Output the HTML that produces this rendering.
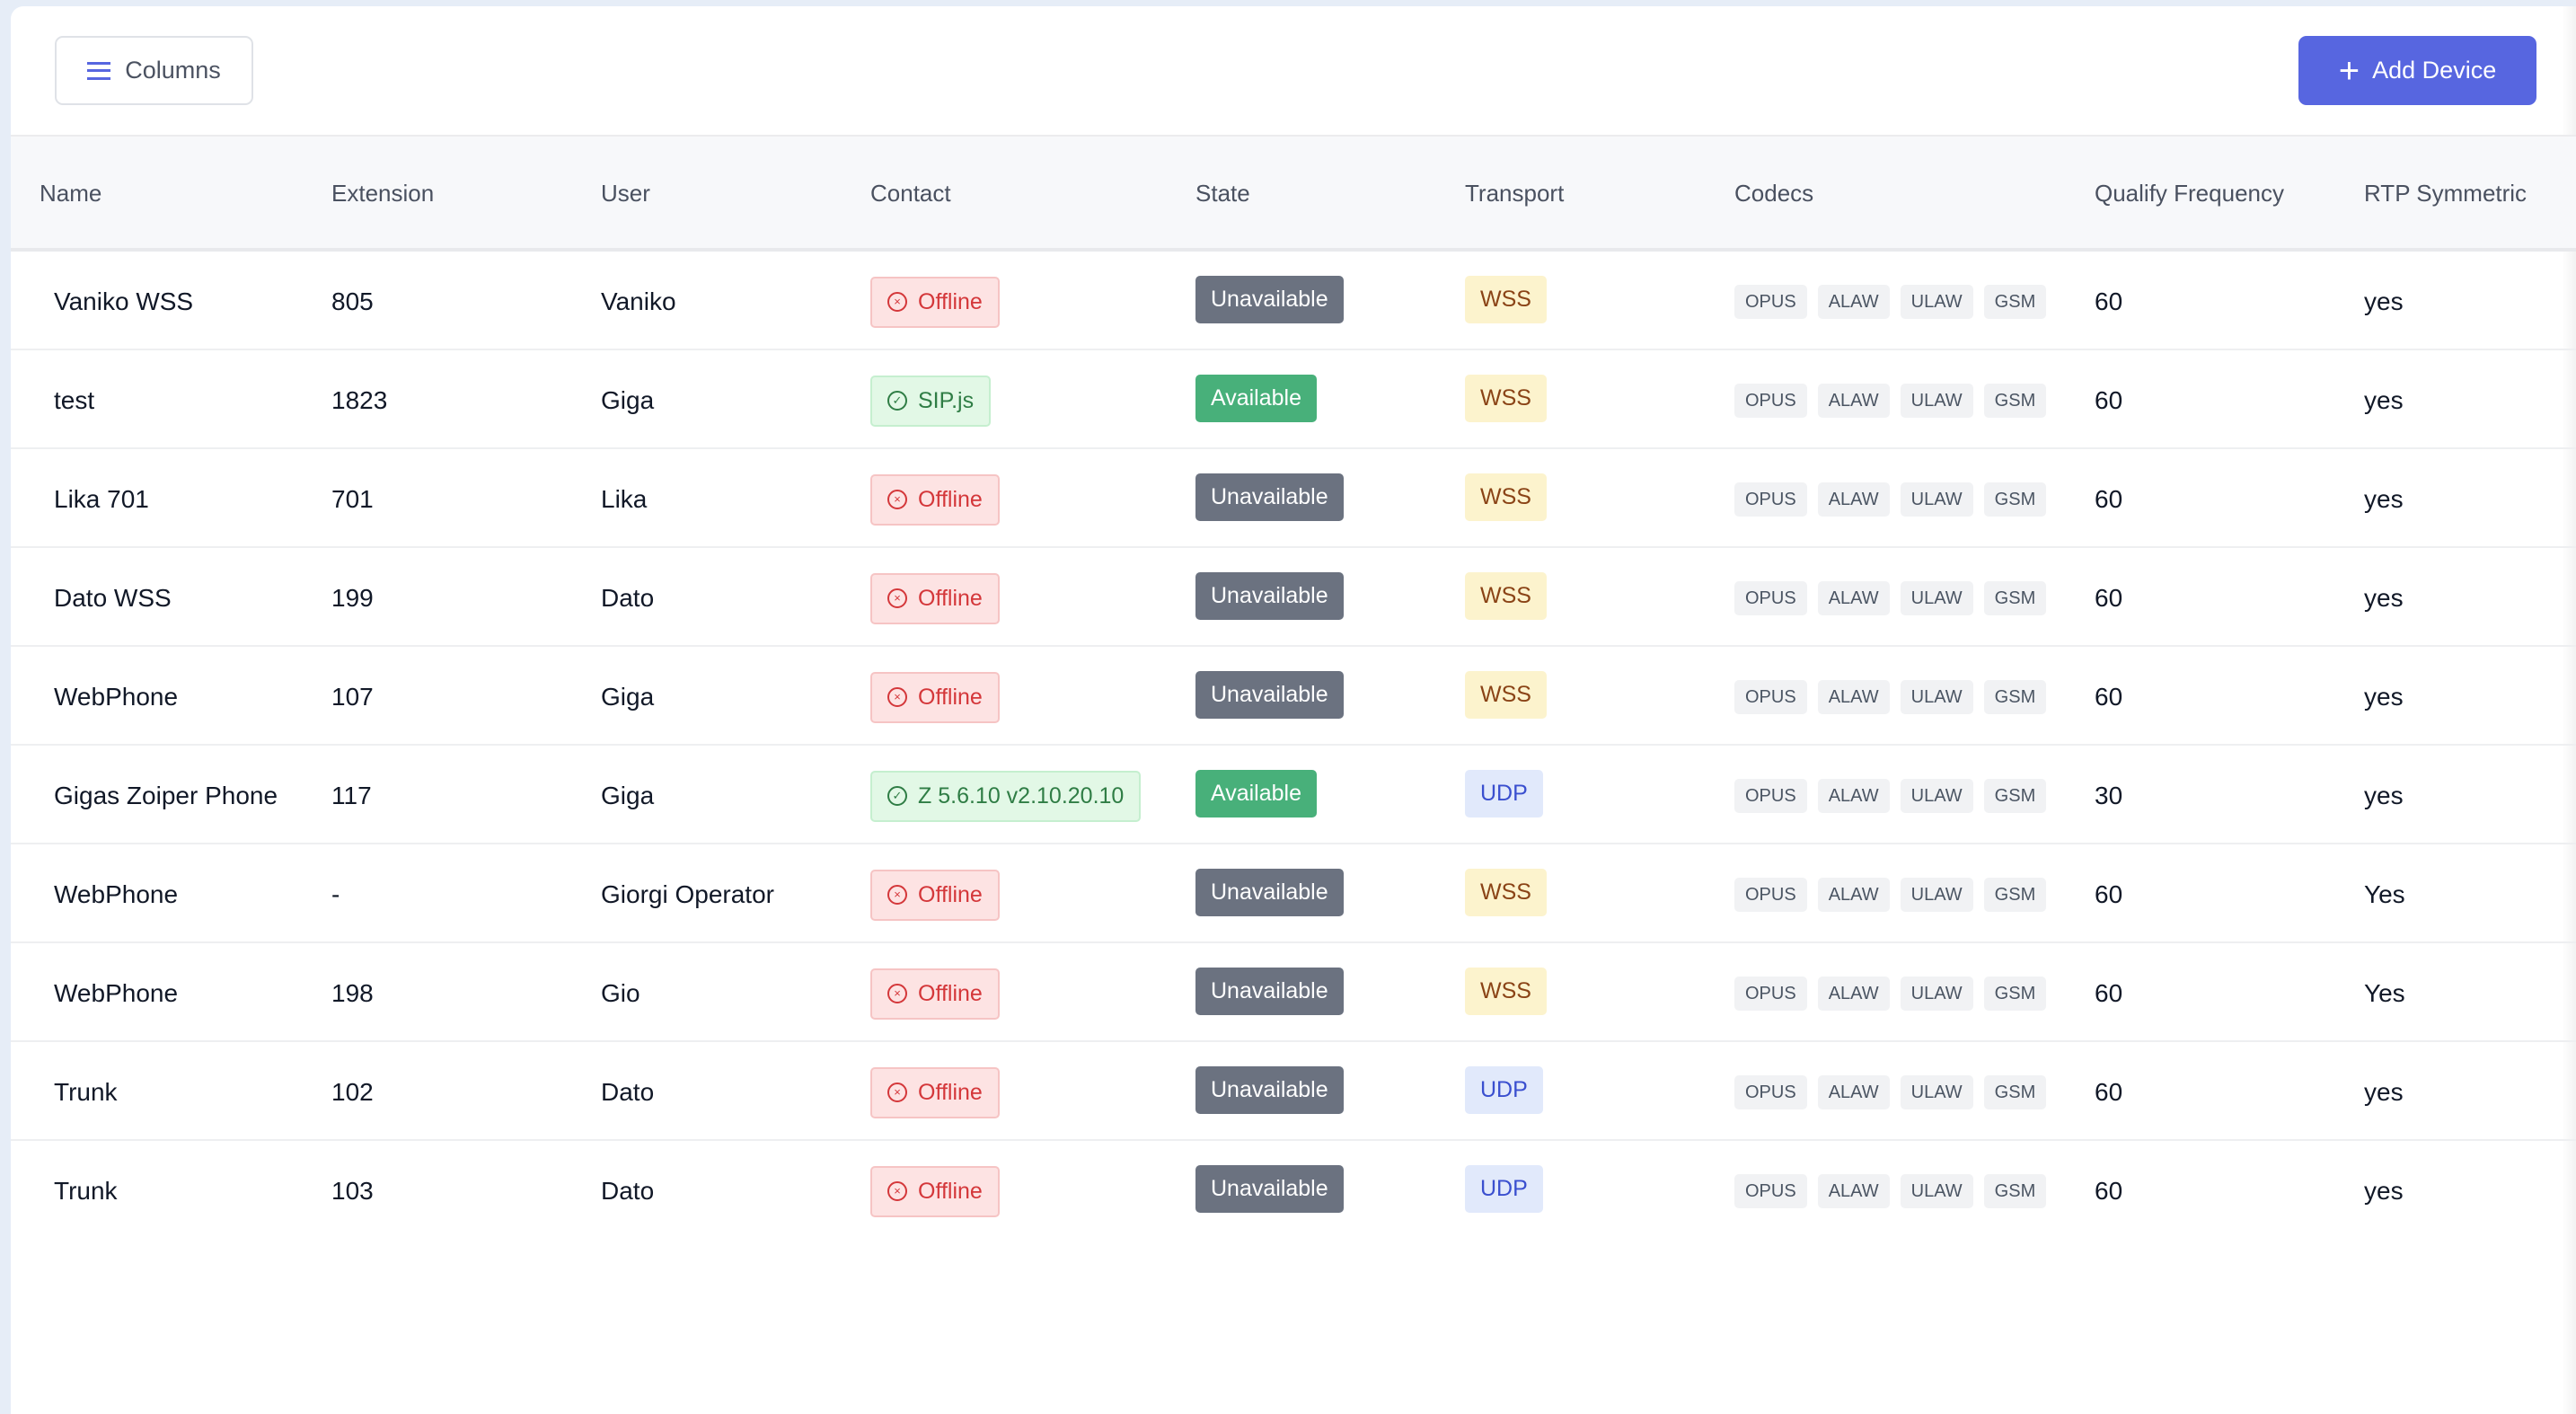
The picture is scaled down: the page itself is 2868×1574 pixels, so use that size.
<!DOCTYPE html>
<html><head><meta charset="utf-8"><style>
*{box-sizing:border-box;margin:0;padding:0}
body{width:2868px;height:1574px;background:#e6edf7;font-family:"Liberation Sans",sans-serif;position:relative;overflow:hidden}
.card{position:absolute;left:12px;top:7px;width:2856px;height:1567px;background:#fff;border-radius:14px 0 0 0;overflow:hidden}
.shade{position:absolute;right:0;top:0;width:16px;height:100%;background:linear-gradient(90deg,rgba(0,0,0,0),rgba(0,0,0,0.05))}
.btn1{position:absolute;left:49px;top:33px;width:221px;height:77px;border:2px solid #dfe2e7;border-radius:9px;display:flex;align-items:center;justify-content:center;font-size:27px;color:#4b5261}
.btn2{position:absolute;left:2547px;top:33px;width:265px;height:77px;background:#5766e0;border-radius:9px;display:flex;align-items:center;justify-content:center;font-size:27px;color:#fff}
.hb{display:inline-block;width:26px;height:20px;margin-right:16px;border-top:3px solid #5766e0;border-bottom:3px solid #5766e0;position:relative}
.hb:after{content:"";position:absolute;left:0;right:0;top:5.5px;border-top:3px solid #5766e0}
.head{position:absolute;left:0;top:143px;width:100%;height:130px;background:#f7f8fa;border-top:2px solid #ececee;border-bottom:4px solid #e8e9ec}
.h{position:absolute;top:0;height:124px;line-height:126px;font-size:26px;color:#4a5160}
.row{position:absolute;left:0;width:100%;height:110px;border-bottom:2px solid #eeeff1}
.c{position:absolute;top:2px;height:108px;display:flex;align-items:center;font-size:28px;color:#111827}
.b{display:inline-flex;align-items:center;height:57px;padding:0 17px;border-radius:5px;font-size:25px}
.off{background:#fde3e3;border:2px solid #f6c4c4;color:#d4373a}
.ok{background:#e2f8e6;border:2px solid #c5efcf;color:#2f7d45}
.st{height:53px;margin-top:-6px;color:#fff;font-size:25px;padding:0 17px;border-radius:5px}
.un{background:#6b7280}.av{background:#48b07a}
.wss{background:#fcf3cd;color:#8a4316;margin-top:-6px;height:53px;padding:0 17px}
.udp{background:#e1e9fb;color:#3a4fcf;margin-top:-6px;height:53px;padding:0 17px}
.ch{display:inline-flex;align-items:center;height:38px;padding:0 12px;margin-right:12px;background:#f1f2f4;border-radius:5px;font-size:20px;color:#4b5563}
.ic{display:inline-block;width:22px;height:22px;border:2px solid currentColor;border-radius:50%;margin-right:12px;font-size:13px;line-height:18px;text-align:center}
</style></head><body>
<div class="card">
<div class="shade"></div>
<div class="btn1"><span class="hb"></span>Columns</div>
<div class="btn2"><span style="font-size:40px;font-weight:300;margin-right:14px;line-height:1">+</span>Add Device</div>
<div class="head">
<div class="h" style="left:32px">Name</div><div class="h" style="left:357px">Extension</div><div class="h" style="left:657px">User</div><div class="h" style="left:957px">Contact</div><div class="h" style="left:1319px">State</div><div class="h" style="left:1619px">Transport</div><div class="h" style="left:1919px">Codecs</div><div class="h" style="left:2320px">Qualify Frequency</div><div class="h" style="left:2620px">RTP Symmetric</div>
</div>

<div class="row" style="top:273px"><div class="c" style="left:48px">Vaniko WSS</div><div class="c" style="left:357px">805</div><div class="c" style="left:657px">Vaniko</div><div class="c" style="left:957px"><span class="b off"><span class="ic">×</span>Offline</span></div><div class="c" style="left:1319px"><span class="b st un">Unavailable</span></div><div class="c" style="left:1619px"><span class="b wss">WSS</span></div><div class="c" style="left:1919px"><span class="ch">OPUS</span><span class="ch">ALAW</span><span class="ch">ULAW</span><span class="ch">GSM</span></div><div class="c" style="left:2320px">60</div><div class="c" style="left:2620px">yes</div></div>

<div class="row" style="top:383px"><div class="c" style="left:48px">test</div><div class="c" style="left:357px">1823</div><div class="c" style="left:657px">Giga</div><div class="c" style="left:957px"><span class="b ok"><span class="ic">✓</span>SIP.js</span></div><div class="c" style="left:1319px"><span class="b st av">Available</span></div><div class="c" style="left:1619px"><span class="b wss">WSS</span></div><div class="c" style="left:1919px"><span class="ch">OPUS</span><span class="ch">ALAW</span><span class="ch">ULAW</span><span class="ch">GSM</span></div><div class="c" style="left:2320px">60</div><div class="c" style="left:2620px">yes</div></div>

<div class="row" style="top:493px"><div class="c" style="left:48px">Lika 701</div><div class="c" style="left:357px">701</div><div class="c" style="left:657px">Lika</div><div class="c" style="left:957px"><span class="b off"><span class="ic">×</span>Offline</span></div><div class="c" style="left:1319px"><span class="b st un">Unavailable</span></div><div class="c" style="left:1619px"><span class="b wss">WSS</span></div><div class="c" style="left:1919px"><span class="ch">OPUS</span><span class="ch">ALAW</span><span class="ch">ULAW</span><span class="ch">GSM</span></div><div class="c" style="left:2320px">60</div><div class="c" style="left:2620px">yes</div></div>

<div class="row" style="top:603px"><div class="c" style="left:48px">Dato WSS</div><div class="c" style="left:357px">199</div><div class="c" style="left:657px">Dato</div><div class="c" style="left:957px"><span class="b off"><span class="ic">×</span>Offline</span></div><div class="c" style="left:1319px"><span class="b st un">Unavailable</span></div><div class="c" style="left:1619px"><span class="b wss">WSS</span></div><div class="c" style="left:1919px"><span class="ch">OPUS</span><span class="ch">ALAW</span><span class="ch">ULAW</span><span class="ch">GSM</span></div><div class="c" style="left:2320px">60</div><div class="c" style="left:2620px">yes</div></div>

<div class="row" style="top:713px"><div class="c" style="left:48px">WebPhone</div><div class="c" style="left:357px">107</div><div class="c" style="left:657px">Giga</div><div class="c" style="left:957px"><span class="b off"><span class="ic">×</span>Offline</span></div><div class="c" style="left:1319px"><span class="b st un">Unavailable</span></div><div class="c" style="left:1619px"><span class="b wss">WSS</span></div><div class="c" style="left:1919px"><span class="ch">OPUS</span><span class="ch">ALAW</span><span class="ch">ULAW</span><span class="ch">GSM</span></div><div class="c" style="left:2320px">60</div><div class="c" style="left:2620px">yes</div></div>

<div class="row" style="top:823px"><div class="c" style="left:48px">Gigas Zoiper Phone</div><div class="c" style="left:357px">117</div><div class="c" style="left:657px">Giga</div><div class="c" style="left:957px"><span class="b ok"><span class="ic">✓</span>Z 5.6.10 v2.10.20.10</span></div><div class="c" style="left:1319px"><span class="b st av">Available</span></div><div class="c" style="left:1619px"><span class="b udp">UDP</span></div><div class="c" style="left:1919px"><span class="ch">OPUS</span><span class="ch">ALAW</span><span class="ch">ULAW</span><span class="ch">GSM</span></div><div class="c" style="left:2320px">30</div><div class="c" style="left:2620px">yes</div></div>

<div class="row" style="top:933px"><div class="c" style="left:48px">WebPhone</div><div class="c" style="left:357px">-</div><div class="c" style="left:657px">Giorgi Operator</div><div class="c" style="left:957px"><span class="b off"><span class="ic">×</span>Offline</span></div><div class="c" style="left:1319px"><span class="b st un">Unavailable</span></div><div class="c" style="left:1619px"><span class="b wss">WSS</span></div><div class="c" style="left:1919px"><span class="ch">OPUS</span><span class="ch">ALAW</span><span class="ch">ULAW</span><span class="ch">GSM</span></div><div class="c" style="left:2320px">60</div><div class="c" style="left:2620px">Yes</div></div>

<div class="row" style="top:1043px"><div class="c" style="left:48px">WebPhone</div><div class="c" style="left:357px">198</div><div class="c" style="left:657px">Gio</div><div class="c" style="left:957px"><span class="b off"><span class="ic">×</span>Offline</span></div><div class="c" style="left:1319px"><span class="b st un">Unavailable</span></div><div class="c" style="left:1619px"><span class="b wss">WSS</span></div><div class="c" style="left:1919px"><span class="ch">OPUS</span><span class="ch">ALAW</span><span class="ch">ULAW</span><span class="ch">GSM</span></div><div class="c" style="left:2320px">60</div><div class="c" style="left:2620px">Yes</div></div>

<div class="row" style="top:1153px"><div class="c" style="left:48px">Trunk</div><div class="c" style="left:357px">102</div><div class="c" style="left:657px">Dato</div><div class="c" style="left:957px"><span class="b off"><span class="ic">×</span>Offline</span></div><div class="c" style="left:1319px"><span class="b st un">Unavailable</span></div><div class="c" style="left:1619px"><span class="b udp">UDP</span></div><div class="c" style="left:1919px"><span class="ch">OPUS</span><span class="ch">ALAW</span><span class="ch">ULAW</span><span class="ch">GSM</span></div><div class="c" style="left:2320px">60</div><div class="c" style="left:2620px">yes</div></div>

<div class="row" style="top:1263px;border-bottom:none"><div class="c" style="left:48px">Trunk</div><div class="c" style="left:357px">103</div><div class="c" style="left:657px">Dato</div><div class="c" style="left:957px"><span class="b off"><span class="ic">×</span>Offline</span></div><div class="c" style="left:1319px"><span class="b st un">Unavailable</span></div><div class="c" style="left:1619px"><span class="b udp">UDP</span></div><div class="c" style="left:1919px"><span class="ch">OPUS</span><span class="ch">ALAW</span><span class="ch">ULAW</span><span class="ch">GSM</span></div><div class="c" style="left:2320px">60</div><div class="c" style="left:2620px">yes</div></div>
</div>
</body></html>
